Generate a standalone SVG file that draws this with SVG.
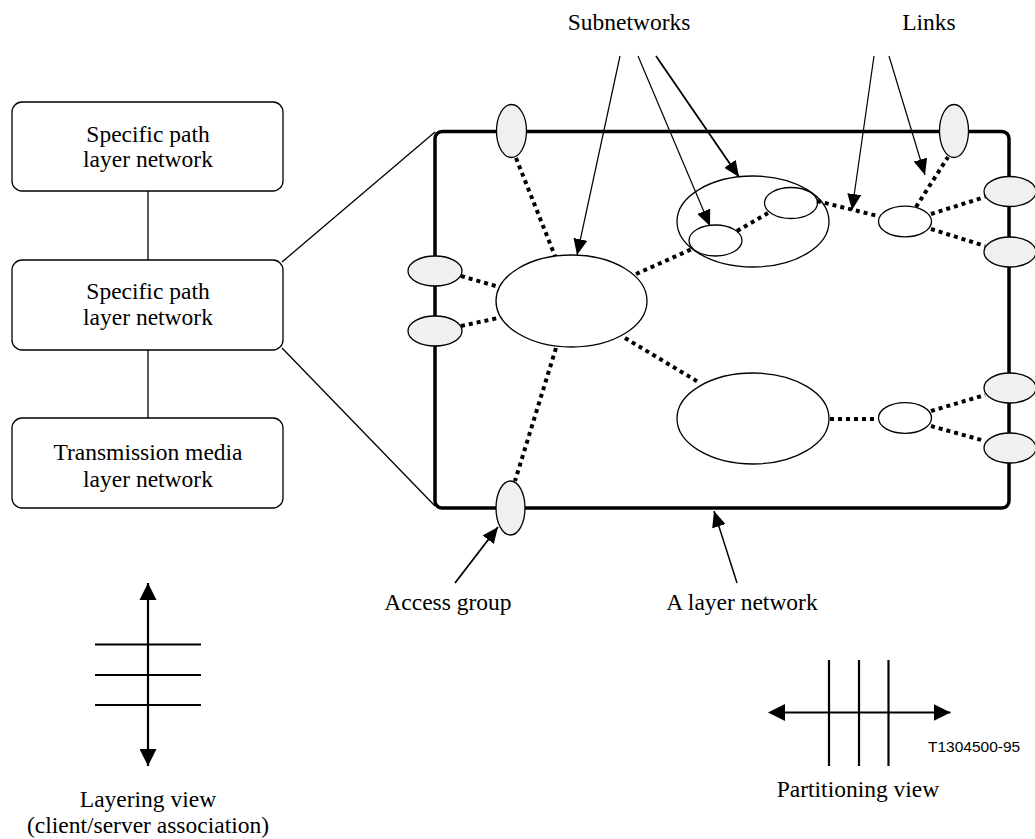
<svg xmlns="http://www.w3.org/2000/svg" width="1035" height="839" viewBox="0 0 1035 839">
<style>
.t{font-family:"Liberation Serif","Times New Roman",serif;font-size:23.5px;fill:#000;text-anchor:middle}
.s{font-family:"Liberation Sans",Arial,sans-serif;font-size:15.5px;fill:#000}
.box{fill:#fff;stroke:#000;stroke-width:1.3}
.ag{fill:#f0f0f0;stroke:#000;stroke-width:1.3}
.sn{fill:#fff;stroke:#000;stroke-width:1.3}
.dot{stroke:#000;stroke-width:4;stroke-dasharray:4 4;fill:none}
.ln{stroke:#000;stroke-width:1.3;fill:none}
.ar{stroke:#000;stroke-width:1.2;fill:none;marker-end:url(#ah)}
.sym{stroke:#000;stroke-width:2.2;fill:none}
</style>
<defs>
<marker id="ah" markerUnits="userSpaceOnUse" markerWidth="16" markerHeight="14" refX="16" refY="7" orient="auto"><path d="M0,0 L16,7 L0,14 z" fill="#000"/></marker>
<marker id="ah2" markerUnits="userSpaceOnUse" markerWidth="17" markerHeight="17" refX="17" refY="8.5" orient="auto"><path d="M0,0 L17,8.5 L0,17 z" fill="#000"/></marker>
</defs>
<g id="box-path1"><rect class="box" x="12" y="102" width="271" height="89" rx="10"/><text class="t" x="148" y="142">Specific path</text><text class="t" x="148" y="167">layer network</text></g>
<g id="box-path2"><rect class="box" x="12" y="260" width="271" height="90" rx="10"/><text class="t" x="148" y="299">Specific path</text><text class="t" x="148" y="325">layer network</text></g>
<g id="box-media"><rect class="box" x="12" y="418" width="271" height="90" rx="10"/><text class="t" x="148" y="460">Transmission media</text><text class="t" x="148" y="487">layer network</text></g>
<g id="layer-network"><rect x="435" y="131.5" width="574" height="376.5" rx="7" fill="none" stroke="#000" stroke-width="3.5"/></g>
<g id="subnet-a"><ellipse class="sn" cx="571.5" cy="301" rx="75.5" ry="46"/></g>
<g id="subnet-upper"><ellipse cx="753" cy="221.5" rx="76" ry="45.5" fill="none" stroke="#000" stroke-width="1.3"/><ellipse class="sn" cx="715.5" cy="240.5" rx="26.5" ry="15.5"/><ellipse class="sn" cx="791" cy="203" rx="26.5" ry="15.5"/></g>
<g id="subnet-lower"><ellipse class="sn" cx="753" cy="418.5" rx="76" ry="45.5"/></g>
<g id="link-node-1"><ellipse class="sn" cx="905" cy="221.5" rx="26.5" ry="15.3"/></g>
<g id="link-node-2"><ellipse class="sn" cx="905" cy="418" rx="26.5" ry="15.3"/></g>
<g id="access-groups">
<ellipse class="ag" cx="511.5" cy="131" rx="15" ry="26.5"/>
<ellipse class="ag" cx="954" cy="131" rx="14.5" ry="26.5"/>
<ellipse class="ag" cx="510.5" cy="508" rx="14.5" ry="27"/>
<ellipse class="ag" cx="435" cy="271" rx="27" ry="15"/>
<ellipse class="ag" cx="435" cy="331" rx="27" ry="15"/>
<ellipse class="ag" cx="1010" cy="191.5" rx="26" ry="15"/>
<ellipse class="ag" cx="1010" cy="252" rx="26" ry="15"/>
<ellipse class="ag" cx="1010" cy="388" rx="26" ry="15"/>
<ellipse class="ag" cx="1010" cy="448" rx="26" ry="15"/>
</g>
<g id="connectors">
<line class="ln" x1="148" y1="191" x2="148" y2="260"/>
<line class="ln" x1="148" y1="350" x2="148" y2="418"/>
<line class="ln" x1="282" y1="262" x2="435" y2="132"/>
<line class="ln" x1="282" y1="348" x2="435" y2="506"/>
<line class="dot" x1="516" y1="158" x2="555" y2="256"/>
<line class="dot" x1="461" y1="276" x2="499" y2="287"/>
<line class="dot" x1="461" y1="326" x2="498" y2="318"/>
<line class="dot" x1="636" y1="274" x2="692" y2="249"/>
<line class="dot" x1="737" y1="231" x2="768" y2="213"/>
<line class="dot" x1="817" y1="201" x2="878" y2="216"/>
<line class="dot" x1="916" y1="207" x2="948" y2="157"/>
<line class="dot" x1="931" y1="214" x2="985" y2="197"/>
<line class="dot" x1="931" y1="229" x2="985" y2="246"/>
<line class="dot" x1="625" y1="338" x2="700" y2="383"/>
<line class="dot" x1="830" y1="419" x2="878" y2="419"/>
<line class="dot" x1="931" y1="411" x2="985" y2="395"/>
<line class="dot" x1="931" y1="426" x2="985" y2="441"/>
<line class="dot" x1="556" y1="348" x2="515" y2="481"/>
<line class="ar" x1="620" y1="56" x2="577" y2="255"/>
<line class="ar" x1="638" y1="56" x2="710" y2="226"/>
<line class="ar" x1="656" y1="56" x2="739" y2="177" style="stroke-width:1.8"/>
<line class="ar" x1="874" y1="56" x2="852" y2="210"/>
<line class="ar" x1="889" y1="56" x2="925" y2="175"/>
<line class="ar" x1="455" y1="583" x2="498" y2="527" style="stroke-width:1.8"/>
<line class="ar" x1="737" y1="583" x2="714" y2="511" style="stroke-width:1.5"/>
</g>
<g id="labels">
<text class="t" x="629" y="30">Subnetworks</text>
<text class="t" x="929" y="30">Links</text>
<text class="t" x="448" y="610">Access group</text>
<text class="t" x="742" y="610">A layer network</text>
</g>
<g id="layering-view">
<line class="sym" x1="148" y1="583" x2="148" y2="766" marker-start="url(#ah2)" marker-end="url(#ah2)" style="marker-start:none"/>
<path d="M148,583 L139.5,600 L156.5,600 z" fill="#000"/>
<line class="sym" x1="95" y1="644.5" x2="201" y2="644.5"/>
<line class="sym" x1="95" y1="675" x2="201" y2="675"/>
<line class="sym" x1="95" y1="705" x2="201" y2="705"/>
<text class="t" x="148" y="807">Layering view</text>
<text class="t" x="148" y="833">(client/server association)</text>
</g>
<g id="partitioning-view">
<line class="sym" x1="785" y1="712.5" x2="950.5" y2="712.5" marker-end="url(#ah2)"/>
<path d="M768,712.5 L785,704 L785,721 z" fill="#000"/>
<line class="sym" x1="829" y1="660" x2="829" y2="766"/>
<line class="sym" x1="859" y1="660" x2="859" y2="766"/>
<line class="sym" x1="888.5" y1="660" x2="888.5" y2="766"/>
<text class="t" x="858" y="797">Partitioning view</text>
<text class="s" x="928" y="752">T1304500-95</text>
</g>
</svg>
